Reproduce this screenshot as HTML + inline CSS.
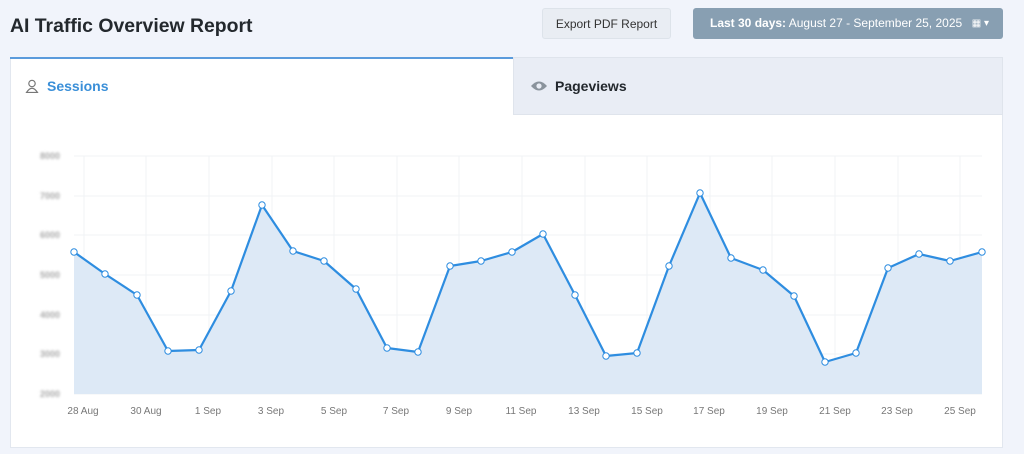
<!DOCTYPE html>
<html><head><style>
body{margin:0;width:1024px;height:454px;background:#f1f4fb;font-family:"Liberation Sans",sans-serif;position:relative;overflow:hidden}
.t{position:absolute;left:10px;top:15px;font-size:19.4px;font-weight:bold;color:#23282d}
.exp{position:absolute;left:542px;top:8px;width:129px;height:31px;background:#e9edf3;border:1px solid #dde3ea;border-radius:3px;font-size:12px;color:#333;text-align:center;line-height:31px;box-sizing:border-box}
.date{position:absolute;left:693px;top:8px;width:310px;height:31px;background:#889fb2;border-radius:3px;color:#fff;font-size:12px;line-height:31px;padding-left:17px;box-sizing:border-box}
.card{position:absolute;left:10px;top:57px;width:993px;height:391px;background:#fff;border:1px solid #e2e7ef;box-sizing:border-box}
.tab1{position:absolute;left:10px;top:57px;width:503px;height:58px;border-top:2px solid #5b9bdc;box-sizing:border-box;font-size:14px;font-weight:bold;color:#3a8fd8}
.tab2{position:absolute;left:513px;top:57px;width:490px;height:58px;background:#e9edf5;border:1px solid #dfe4ec;box-sizing:border-box;font-size:14px;font-weight:bold;color:#23282d}
</style></head><body>
<div class="t">AI Traffic Overview Report</div>
<div class="exp">Export PDF Report</div>
<div class="date"><b>Last 30 days:</b> August 27 - September 25, 2025<span style="position:absolute;right:14px;font-size:10px">▦ ▾</span></div>
<div class="card"></div>
<div class="tab1"><svg style="position:absolute;left:15px;top:20px" width="14" height="14"><circle cx="7" cy="4.5" r="3.2" fill="none" stroke="#777" stroke-width="1.2"/><path d="M1.5 13.5 Q7 5 12.5 13.5 Z" fill="none" stroke="#777" stroke-width="1.2"/></svg><span style="position:absolute;left:37px;top:19px">Sessions</span></div>
<div class="tab2"><svg style="position:absolute;left:16px;top:22px" width="18" height="12"><path d="M1 6 Q9 -3 17 6 Q9 15 1 6Z" fill="#8a939c"/><circle cx="9" cy="6" r="2.6" fill="#e9edf5"/></svg><span style="position:absolute;left:41px;top:20px">Pageviews</span></div>
<svg style="position:absolute;left:0;top:0" width="1024" height="454">
<g stroke="#f1f3f6" stroke-width="1">
<line x1="74" x2="982" y1="156" y2="156"/><line x1="74" x2="982" y1="196" y2="196"/><line x1="74" x2="982" y1="235" y2="235"/><line x1="74" x2="982" y1="275" y2="275"/><line x1="74" x2="982" y1="315" y2="315"/><line x1="74" x2="982" y1="354" y2="354"/><line x1="74" x2="982" y1="394" y2="394"/>
<line x1="84" x2="84" y1="156" y2="394"/><line x1="146" x2="146" y1="156" y2="394"/><line x1="209" x2="209" y1="156" y2="394"/><line x1="272" x2="272" y1="156" y2="394"/><line x1="334" x2="334" y1="156" y2="394"/><line x1="397" x2="397" y1="156" y2="394"/><line x1="459" x2="459" y1="156" y2="394"/><line x1="522" x2="522" y1="156" y2="394"/><line x1="585" x2="585" y1="156" y2="394"/><line x1="647" x2="647" y1="156" y2="394"/><line x1="710" x2="710" y1="156" y2="394"/><line x1="772" x2="772" y1="156" y2="394"/><line x1="835" x2="835" y1="156" y2="394"/><line x1="898" x2="898" y1="156" y2="394"/><line x1="960" x2="960" y1="156" y2="394"/>
</g>
<g fill="#aaa" font-size="9" font-weight="bold" style="filter:blur(1.3px)" text-anchor="end">
<text x="60" y="159">8000</text><text x="60" y="199">7000</text><text x="60" y="238">6000</text><text x="60" y="278">5000</text><text x="60" y="318">4000</text><text x="60" y="357">3000</text><text x="60" y="397">2000</text>
</g>
<polygon fill="#dde9f6" points="74,394 74,252 105,274 137,295 168,351 199,350 231,291 262,205 293,251 324,261 356,289 387,348 418,352 450,266 481,261 512,252 543,234 575,295 606,356 637,353 669,266 700,193 731,258 763,270 794,296 825,362 856,353 888,268 919,254 950,261 982,252 982,394"/>
<polyline fill="none" stroke="#2e8de0" stroke-width="2.2" stroke-linejoin="round" points="74,252 105,274 137,295 168,351 199,350 231,291 262,205 293,251 324,261 356,289 387,348 418,352 450,266 481,261 512,252 543,234 575,295 606,356 637,353 669,266 700,193 731,258 763,270 794,296 825,362 856,353 888,268 919,254 950,261 982,252"/>
<g fill="#fff" stroke="#2e8de0" stroke-width="1">
<circle cx="74" cy="252" r="3.2"/><circle cx="105" cy="274" r="3.2"/><circle cx="137" cy="295" r="3.2"/><circle cx="168" cy="351" r="3.2"/><circle cx="199" cy="350" r="3.2"/><circle cx="231" cy="291" r="3.2"/><circle cx="262" cy="205" r="3.2"/><circle cx="293" cy="251" r="3.2"/><circle cx="324" cy="261" r="3.2"/><circle cx="356" cy="289" r="3.2"/><circle cx="387" cy="348" r="3.2"/><circle cx="418" cy="352" r="3.2"/><circle cx="450" cy="266" r="3.2"/><circle cx="481" cy="261" r="3.2"/><circle cx="512" cy="252" r="3.2"/><circle cx="543" cy="234" r="3.2"/><circle cx="575" cy="295" r="3.2"/><circle cx="606" cy="356" r="3.2"/><circle cx="637" cy="353" r="3.2"/><circle cx="669" cy="266" r="3.2"/><circle cx="700" cy="193" r="3.2"/><circle cx="731" cy="258" r="3.2"/><circle cx="763" cy="270" r="3.2"/><circle cx="794" cy="296" r="3.2"/><circle cx="825" cy="362" r="3.2"/><circle cx="856" cy="353" r="3.2"/><circle cx="888" cy="268" r="3.2"/><circle cx="919" cy="254" r="3.2"/><circle cx="950" cy="261" r="3.2"/><circle cx="982" cy="252" r="3.2"/>
</g>
<g fill="#777" font-size="10" text-anchor="middle">
<text x="83" y="414">28 Aug</text><text x="146" y="414">30 Aug</text><text x="208" y="414">1 Sep</text><text x="271" y="414">3 Sep</text><text x="334" y="414">5 Sep</text><text x="396" y="414">7 Sep</text><text x="459" y="414">9 Sep</text><text x="521" y="414">11 Sep</text><text x="584" y="414">13 Sep</text><text x="647" y="414">15 Sep</text><text x="709" y="414">17 Sep</text><text x="772" y="414">19 Sep</text><text x="835" y="414">21 Sep</text><text x="897" y="414">23 Sep</text><text x="960" y="414">25 Sep</text>
</g>
</svg>
</body></html>
